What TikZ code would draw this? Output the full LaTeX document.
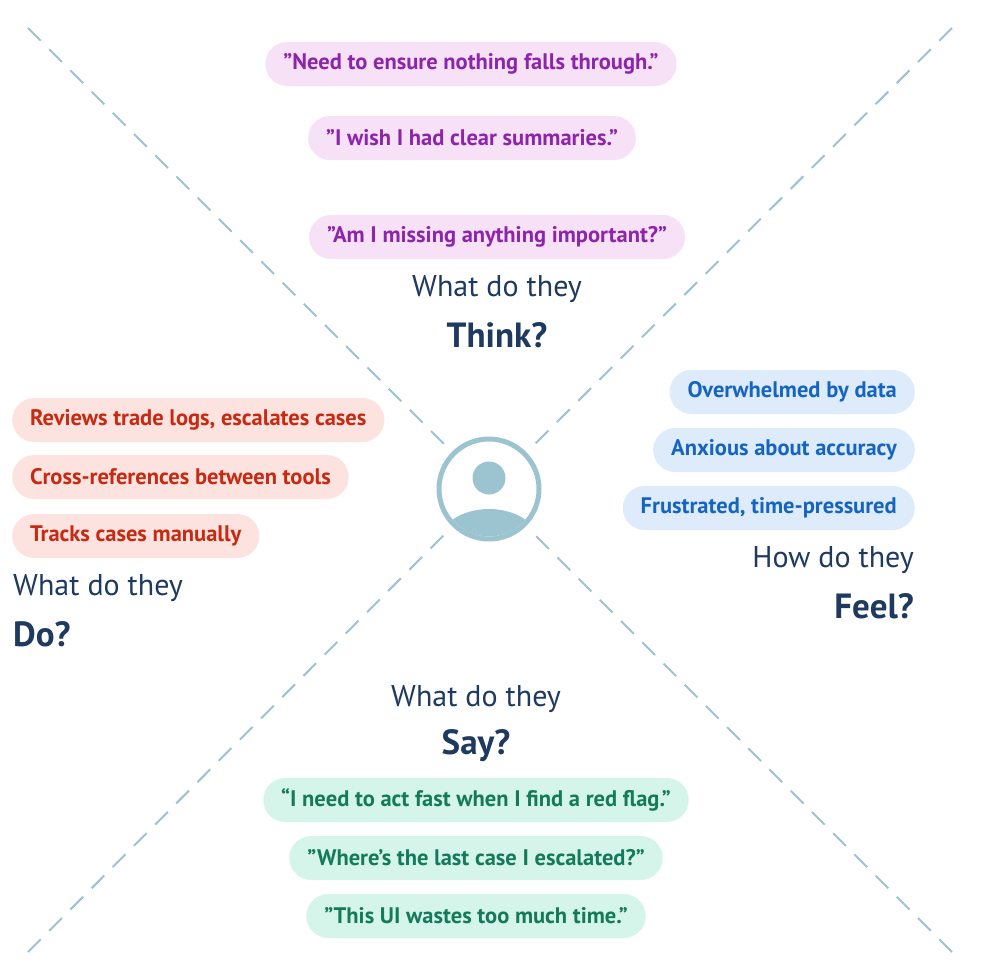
\documentclass[tikz,border=0pt]{standalone}
\usepackage{fontspec}
\setmainfont{PT Sans}
\newcommand{\sq}{\symbol{34}}
\definecolor{navy}{HTML}{1E3A5F}
\definecolor{lineblue}{HTML}{9CC3D0}
\definecolor{pbg}{HTML}{F6E1F7}\definecolor{ptx}{HTML}{8E24AA}
\definecolor{rbg}{HTML}{FDE3DF}\definecolor{rtx}{HTML}{C62A12}
\definecolor{bbg}{HTML}{DEEBFB}\definecolor{btx}{HTML}{1565C0}
\definecolor{gbg}{HTML}{D6F5EA}\definecolor{gtx}{HTML}{137A5A}
\tikzset{
 pill/.style={rounded corners=22pt,minimum height=44pt,inner xsep=18pt,font=\fontsize{22.5}{26}\selectfont\bfseries},
 thinkpill/.style={pill,fill=pbg,text=ptx},
 dopill/.style={pill,fill=rbg,text=rtx,anchor=west},
 feelpill/.style={pill,fill=bbg,text=btx,anchor=east},
 saypill/.style={pill,fill=gbg,text=gtx},
 qlab/.style={text=navy,font=\fontsize{30}{33}\selectfont,inner sep=0pt},
 qbig/.style={text=navy,font=\fontsize{35}{38}\selectfont\bfseries,inner sep=0pt},
 diag/.style={draw=lineblue,line width=2pt,dash pattern=on 18pt off 12pt}
}
\begin{document}
\begin{tikzpicture}[x=1pt,y=-1pt]
\useasboundingbox[fill=white] (0,0) rectangle (980,980);
\coordinate (tl) at (28,28); \coordinate (tle) at (446,446);
\coordinate (br) at (952,952); \coordinate (bre) at (533,533);
\coordinate (tr) at (952,28); \coordinate (tre) at (533,446);
\coordinate (bl) at (28,952); \coordinate (ble) at (446,533);
\draw[diag] (tl) -- (tle); \draw[diag] (br) -- (bre);
\draw[diag] (tr) -- (tre); \draw[diag] (bl) -- (ble);
% person icon
\node[circle,draw=lineblue,line width=5pt,minimum size=100pt,inner sep=0pt] (icon) at (489,489) {};
\begin{scope}
\clip (489,489) circle (47.5);
\fill[lineblue] (489,543) ellipse (50 and 34);
\end{scope}
\fill[lineblue] (489,478) circle (16.5);
% think
\node[thinkpill] (t1) at (471,64) {\sq Need to ensure nothing falls through.\sq};
\node[thinkpill] (t2) at (472,138) {\sq I wish I had clear summaries.\sq};
\node[thinkpill] (t3) at (497,237) {\sq Am I missing anything important?\sq};
\node[qlab] (tq) at (497,289) {What do they};
\node[qbig] (tb) at (497,335) {Think?};
% do
\node[dopill] (d1) at (12,420) {Reviews trade logs, escalates cases};
\node[dopill] (d2) at (12,477) {Cross-references between tools};
\node[dopill] (d3) at (12,536) {Tracks cases manually};
\node[qlab,anchor=west] (dq) at (13,588) {What do they};
\node[qbig,anchor=west] (db) at (13,634) {Do?};
% feel
\node[feelpill] (f1) at (915,392) {Overwhelmed by data};
\node[feelpill] (f2) at (915,450) {Anxious about accuracy};
\node[feelpill] (f3) at (915,508) {Frustrated, time-pressured};
\node[qlab,anchor=east] (fq) at (914,560) {How do they};
\node[qbig,anchor=east] (fb) at (914,606) {Feel?};
% say
\node[qlab] (sq) at (476,699) {What do they};
\node[qbig] (sb) at (476,746) {Say?};
\node[saypill] (s1) at (476,800) {“I need to act fast when I find a red flag.\sq};
\node[saypill] (s2) at (476,858) {\sq Where’s the last case I escalated?\sq};
\node[saypill] (s3) at (476,916) {\sq This UI wastes too much time.\sq};
\end{tikzpicture}
\end{document}
